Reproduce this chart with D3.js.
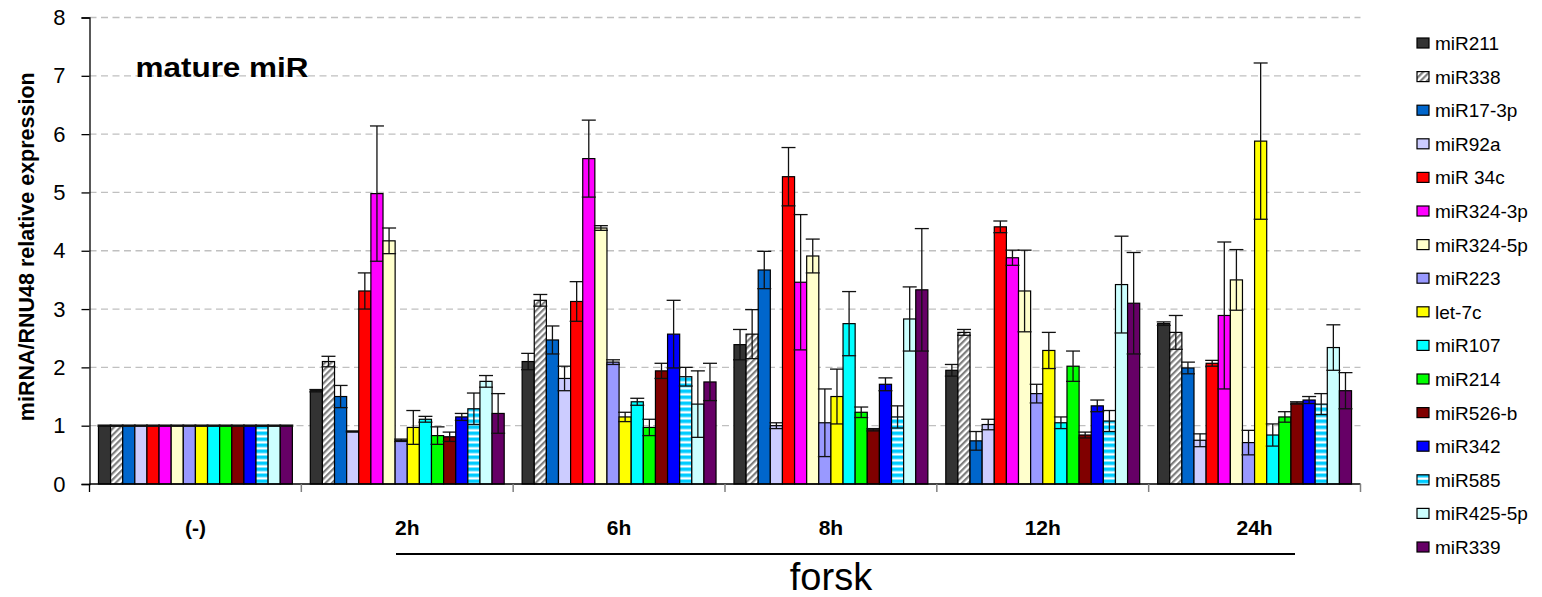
<!DOCTYPE html>
<html>
<head>
<meta charset="utf-8">
<script src="https://cdn.jsdelivr.net/npm/d3@7"></script>
<style>
  body { margin: 0; background: #fff; }
  svg { display: block; font-family: "Liberation Sans", Arial, sans-serif; }
</style>
</head>
<body>
<div id="chart"></div>
<script>
// groups on the x axis and the 16 miRNAs
const groups = ["(-)", "2h", "6h", "8h", "12h", "24h"];
const mirs = ["miR211", "miR338", "miR17-3p", "miR92a", "miR 34c", "miR324-3p", "miR324-5p", "miR223",
              "let-7c", "miR107", "miR214", "miR526-b", "miR342", "miR585", "miR425-5p", "miR339"];

// relative expression per group, in the order of mirs
const ctrl = [1, 1, 1, 1, 1, 1, 1, 1, 1, 1, 1, 1, 1, 1, 1, 1];
const h2   = [1.6, 2.1, 1.5, 0.9, 3.31, 4.98, 4.17, 0.75, 0.97, 1.11, 0.83, 0.81, 1.15, 1.29, 1.76, 1.21];
const h6   = [2.1, 3.15, 2.47, 1.81, 3.13, 5.58, 4.39, 2.09, 1.15, 1.41, 0.97, 1.94, 2.57, 1.84, 1.37, 1.75];
const h8   = [2.39, 2.57, 3.67, 1.0, 5.27, 3.46, 3.91, 1.05, 1.5, 2.75, 1.23, 0.93, 1.71, 1.15, 2.83, 3.33];
const h12  = [1.95, 2.6, 0.74, 1.02, 4.41, 3.88, 3.31, 1.55, 2.29, 1.05, 2.02, 0.84, 1.34, 1.08, 3.42, 3.1];
const h24  = [2.75, 2.6, 1.99, 0.75, 2.07, 2.89, 3.5, 0.71, 5.88, 0.84, 1.15, 1.39, 1.44, 1.37, 2.34, 1.6];

// error bar half-lengths
const ctrlErr = [0.01, 0.01, 0.01, 0.01, 0.01, 0.01, 0.01, 0.01, 0.01, 0.01, 0.01, 0.01, 0.01, 0.01, 0.01, 0.01];
const h2Err   = [0.02, 0.09, 0.19, 0.01, 0.31, 1.16, 0.22, 0.02, 0.29, 0.05, 0.15, 0.08, 0.06, 0.27, 0.1, 0.34];
const h6Err   = [0.14, 0.1, 0.24, 0.21, 0.34, 0.66, 0.04, 0.04, 0.08, 0.06, 0.14, 0.13, 0.58, 0.16, 0.57, 0.32];
const h8Err   = [0.26, 0.42, 0.32, 0.05, 0.5, 1.16, 0.29, 0.58, 0.47, 0.55, 0.09, 0.02, 0.11, 0.19, 0.55, 1.05];
const h12Err  = [0.1, 0.05, 0.16, 0.09, 0.1, 0.13, 0.7, 0.16, 0.31, 0.1, 0.26, 0.05, 0.1, 0.18, 0.83, 0.87];
const h24Err  = [0.03, 0.29, 0.1, 0.11, 0.05, 1.26, 0.52, 0.21, 1.34, 0.19, 0.09, 0.02, 0.06, 0.18, 0.39, 0.31];

const yTicks = [0, 1, 2, 3, 4, 5, 6, 7, 8];

const valueRows = [ctrl, h2, h6, h8, h12, h24];
const errRows = [ctrlErr, h2Err, h6Err, h8Err, h12Err, h24Err];

const fills = ["#333333", "url(#hatch)", "#0066cc", "#ccccff", "#ff0000", "#ff00ff", "#ffffcc", "#9999ff",
               "#ffff00", "#00ffff", "#00ff00", "#800000", "#0000ff", "url(#stripes)", "#ccffff", "#660066"];

const margin = { top: 17.5, left: 89.5 };
const width = 1271;
const height = 466.5;

const svg = d3.select("#chart")
    .append("svg")
    .attr("width", 1542)
    .attr("height", 597);

const defs = svg.append("defs");
const hatch = defs.append("pattern")
    .attr("id", "hatch")
    .attr("patternUnits", "userSpaceOnUse")
    .attr("width", 4.5)
    .attr("height", 4.5)
    .attr("patternTransform", "rotate(45)");
hatch.append("rect").attr("width", 4.5).attr("height", 4.5).attr("fill", "#fff");
hatch.append("rect").attr("width", 2.2).attr("height", 4.5).attr("fill", "#7f7f7f");

const stripes = defs.append("pattern")
    .attr("id", "stripes")
    .attr("patternUnits", "userSpaceOnUse")
    .attr("width", 6)
    .attr("height", 6);
stripes.append("rect").attr("width", 6).attr("height", 6).attr("fill", "#fff");
stripes.append("rect").attr("width", 6).attr("height", 3.6).attr("fill", "#00ccff");

const g = svg.append("g")
    .attr("transform", `translate(${margin.left},${margin.top})`);

const x0 = d3.scaleBand()
    .domain(groups)
    .range([0, width]);

const x1 = d3.scaleBand()
    .domain(mirs)
    .range([0, x0.bandwidth()])
    .paddingInner(0)
    .paddingOuter(0.74);

const y = d3.scaleLinear()
    .domain([0, 8])
    .range([height, 0]);

// dashed gridlines
g.append("g")
    .selectAll("line")
    .data(yTicks.filter(d => d > 0))
    .enter()
    .append("line")
    .attr("x1", 0)
    .attr("x2", width)
    .attr("y1", d => y(d))
    .attr("y2", d => y(d))
    .attr("stroke", "#c0c0c0")
    .attr("stroke-width", 1.3)
    .attr("stroke-dasharray", "7,4.5");

// bars + error bars, one series at a time
mirs.forEach((m, i) => {
    const rows = groups.map((grp, j) => ({ grp, v: valueRows[j][i], e: errRows[j][i] }));
    const sg = g.append("g");

    sg.selectAll("rect")
        .data(rows)
        .enter()
        .append("rect")
        .attr("x", d => x0(d.grp) + x1(m))
        .attr("y", d => y(d.v))
        .attr("width", x1.bandwidth())
        .attr("height", d => y(0) - y(d.v))
        .attr("fill", fills[i])
        .attr("stroke", "#000")
        .attr("stroke-width", 1.2);

    const eb = sg.selectAll(".err")
        .data(rows)
        .enter()
        .append("g")
        .attr("class", "err")
        .attr("stroke", "#111")
        .attr("stroke-width", 1.3);
    const cx = d => x0(d.grp) + x1(m) + x1.bandwidth() / 2;
    eb.append("line")
        .attr("x1", cx).attr("x2", cx)
        .attr("y1", d => y(d.v - d.e)).attr("y2", d => y(d.v + d.e));
    eb.append("line")
        .attr("x1", d => cx(d) - 7).attr("x2", d => cx(d) + 7)
        .attr("y1", d => y(d.v + d.e)).attr("y2", d => y(d.v + d.e));
    eb.append("line")
        .attr("x1", d => cx(d) - 7).attr("x2", d => cx(d) + 7)
        .attr("y1", d => y(d.v - d.e)).attr("y2", d => y(d.v - d.e));
});

// y axis
const yAxis = g.append("g")
    .call(d3.axisLeft(y).tickValues(yTicks).tickSize(8).tickPadding(16).tickFormat(d3.format("d")));
yAxis.select(".domain").attr("stroke", "#000").attr("stroke-width", 1.3);
yAxis.selectAll(".tick line").attr("stroke", "#000").attr("stroke-width", 1.3);
yAxis.selectAll("text")
    .attr("font-size", 22)
    .attr("fill", "#000")
    .attr("font-family", "Liberation Sans, Arial, sans-serif");

// x axis: baseline with ticks at group boundaries
g.append("line")
    .attr("x1", 0).attr("x2", width)
    .attr("y1", height).attr("y2", height)
    .attr("stroke", "#000")
    .attr("stroke-width", 1.3);
g.append("g")
    .selectAll("line")
    .data(groups.slice(1).concat(["end"]))
    .enter()
    .append("line")
    .attr("x1", d => d === "end" ? width : x0(d))
    .attr("x2", d => d === "end" ? width : x0(d))
    .attr("y1", height)
    .attr("y2", height + 8)
    .attr("stroke", "#808080")
    .attr("stroke-width", 1.5);
g.append("line")
    .attr("x1", 0).attr("x2", 0)
    .attr("y1", height).attr("y2", height + 8)
    .attr("stroke", "#000")
    .attr("stroke-width", 1.3);

g.append("g")
    .selectAll("text")
    .data(groups)
    .enter()
    .append("text")
    .attr("x", d => x0(d) + x0.bandwidth() / 2)
    .attr("y", 535 - margin.top)
    .attr("text-anchor", "middle")
    .attr("font-size", 21)
    .attr("font-weight", "bold")
    .text(d => d);

// forsk bracket
g.append("line")
    .attr("x1", 396 - margin.left).attr("x2", 1295 - margin.left)
    .attr("y1", 554 - margin.top).attr("y2", 554 - margin.top)
    .attr("stroke", "#000")
    .attr("stroke-width", 2);
g.append("text")
    .attr("x", 831 - margin.left)
    .attr("y", 590 - margin.top)
    .attr("text-anchor", "middle")
    .attr("font-size", 38)
    .text("forsk");

// titles
g.append("text")
    .attr("x", 46)
    .attr("y", 77 - margin.top)
    .attr("font-size", 27)
    .attr("font-weight", "bold")
    .attr("textLength", 173)
    .attr("lengthAdjust", "spacingAndGlyphs")
    .text("mature miR");

svg.append("text")
    .attr("transform", `translate(34,${margin.top + height / 2 - 4}) rotate(-90)`)
    .attr("text-anchor", "middle")
    .attr("font-size", 21.5)
    .attr("font-weight", "bold")
    .text("miRNA/RNU48 relative expression");

// legend
const legend = svg.append("g")
    .selectAll("g")
    .data(mirs)
    .enter()
    .append("g")
    .attr("transform", (d, i) => `translate(1417,${43 + i * 33.6})`);
legend.append("rect")
    .attr("x", 0)
    .attr("y", -5)
    .attr("width", 12)
    .attr("height", 10)
    .attr("fill", (d, i) => fills[i])
    .attr("stroke", "#000")
    .attr("stroke-width", 1.2);
legend.append("text")
    .attr("x", 18)
    .attr("y", 7)
    .attr("font-size", 19)
    .text(d => d);
</script>
</body>
</html>
